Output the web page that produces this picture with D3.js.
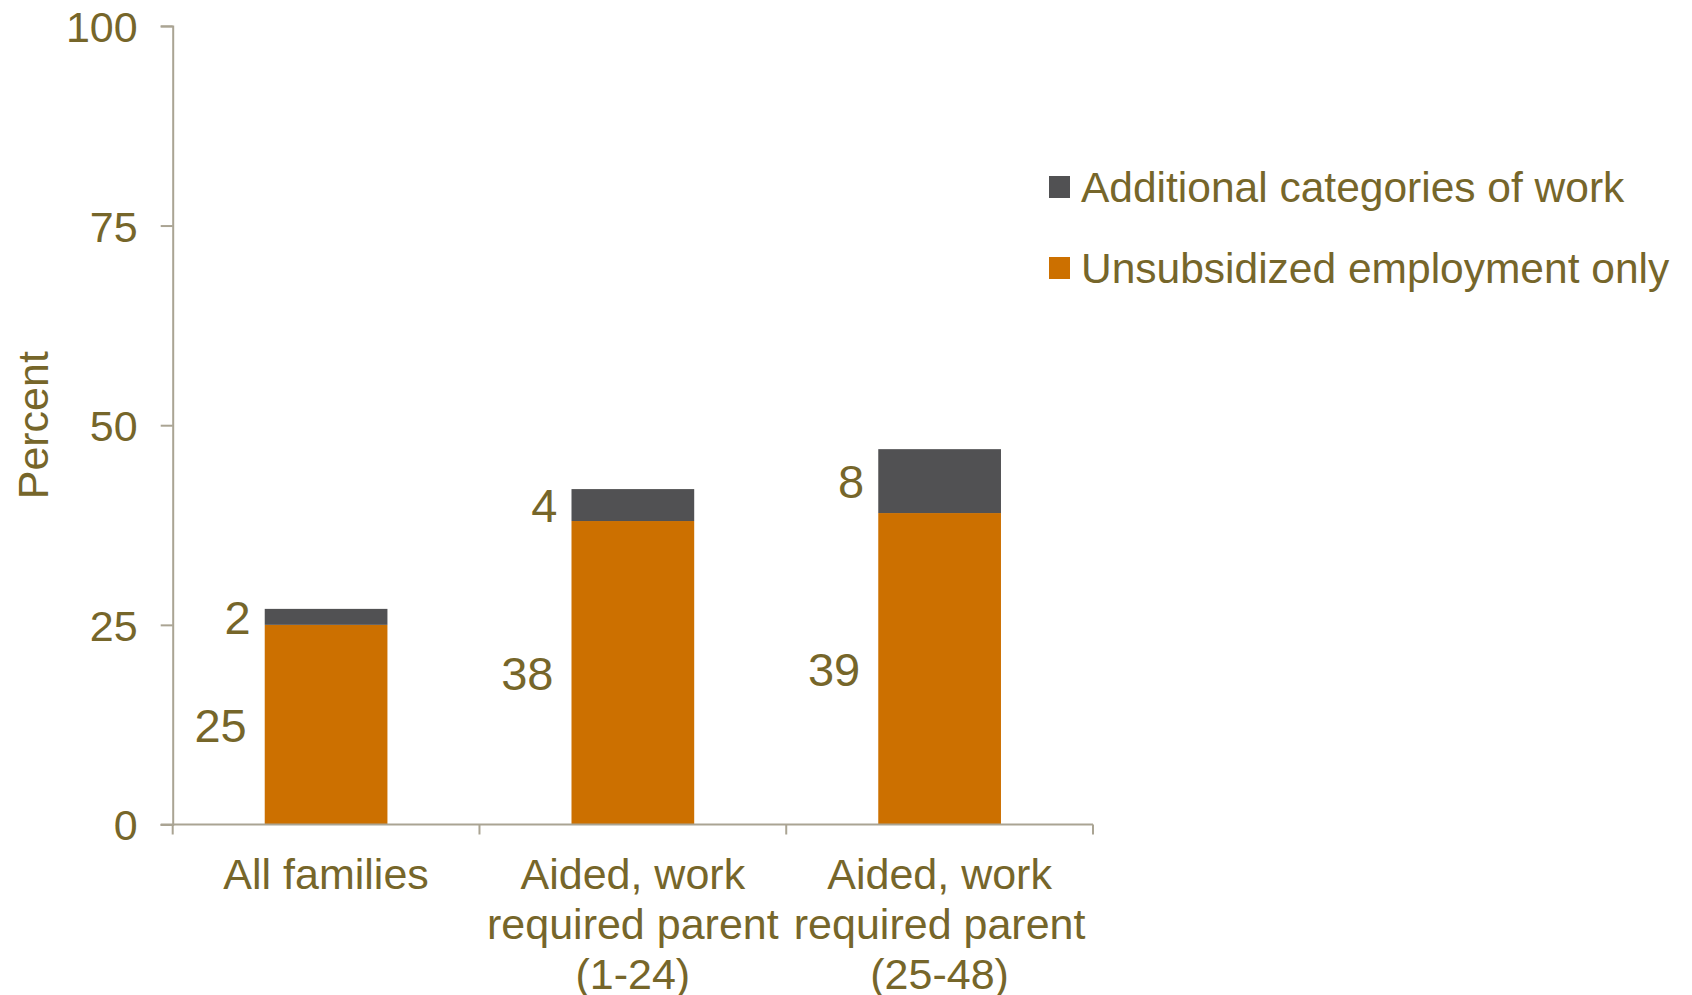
<!DOCTYPE html>
<html>
<head>
<meta charset="utf-8">
<script src="https://cdn.jsdelivr.net/npm/d3@7"></script>
<style>
  html, body { margin: 0; padding: 0; background: #ffffff; }
  svg { display: block; }
  text { font-family: "Liberation Sans", Arial, sans-serif; }
</style>
</head>
<body>
<svg id="chart" width="1692" height="995"></svg>
<script>
// ---- data ----
const categories = ["All families", "Aided, work required parent (1-24)", "Aided, work required parent (25-48)"];
const categoryLines = [["All families"], ["Aided, work", "required parent", "(1-24)"], ["Aided, work", "required parent", "(25-48)"]];
const unsubsidized = [25, 38, 39];
const additional = [2, 4, 8];
const seriesNames = ["Additional categories of work", "Unsubsidized employment only"];
const yTicks = [0, 25, 50, 75, 100];
const yLabel = "Percent";

// ---- styles ----
const textColor = "#76662a";
const axisColor = "#aaa493";
const orange = "#cc7000";
const gray = "#515153";

const svg = d3.select("#chart");
const plotLeft = 172.7, plotRight = 1093, plotTop = 25.9, plotBottom = 824.5;

const y = d3.scaleLinear().domain([0, 100]).range([plotBottom, plotTop]);
const x = d3.scaleBand().domain(categories).range([plotLeft, plotRight]).paddingInner(0.6).paddingOuter(0.3);

const rows = categories.map((c, i) => ({ cat: c, lines: categoryLines[i], u: unsubsidized[i], a: additional[i] }));

// bars
const g = svg.append("g");
g.selectAll("rect.u").data(rows).join("rect")
  .attr("x", d => x(d.cat)).attr("width", x.bandwidth())
  .attr("y", d => y(d.u)).attr("height", d => y(0) - y(d.u))
  .attr("fill", orange);
g.selectAll("rect.a").data(rows).join("rect")
  .attr("x", d => x(d.cat)).attr("width", x.bandwidth())
  .attr("y", d => y(d.u + d.a)).attr("height", d => y(d.u) - y(d.u + d.a))
  .attr("fill", gray);

// y axis
const yAxis = svg.append("g").attr("transform", `translate(${plotLeft},0)`)
  .call(d3.axisLeft(y).tickValues(yTicks).tickSize(12).tickSizeOuter(12).tickPadding(23));
yAxis.select(".domain").attr("stroke", axisColor).attr("stroke-width", 2);
yAxis.selectAll(".tick line").attr("stroke", axisColor).attr("stroke-width", 2);
yAxis.selectAll(".tick text").attr("fill", textColor).attr("font-size", 43)
  .attr("font-family", "Liberation Sans, Arial, sans-serif").attr("dy", "0.36em");

// x axis line and separator ticks
const step = x.step();
const xa = svg.append("g");
xa.append("line").attr("x1", plotLeft - 12).attr("x2", plotRight).attr("y1", plotBottom).attr("y2", plotBottom)
  .attr("stroke", axisColor).attr("stroke-width", 2);
xa.selectAll("line.sep").data(d3.range(categories.length + 1)).join("line")
  .attr("x1", i => plotLeft + i * step).attr("x2", i => plotLeft + i * step)
  .attr("y1", plotBottom).attr("y2", plotBottom + 10)
  .attr("stroke", axisColor).attr("stroke-width", 2);

// category labels
rows.forEach(d => {
  const t = svg.append("text").attr("text-anchor", "middle").attr("fill", textColor).attr("font-size", 43);
  d.lines.forEach((ln, j) => {
    t.append("tspan").attr("x", x(d.cat) + x.bandwidth() / 2).attr("y", 889 + j * 50).text(ln);
  });
});

// data labels
const lblSize = 47;
svg.selectAll("text.lu").data(rows).join("text")
  .attr("x", d => x(d.cat) - 18).attr("y", d => y(d.u / 2)).attr("dy", "0.36em")
  .attr("text-anchor", "end").attr("fill", textColor).attr("font-size", lblSize).text(d => d.u);
svg.selectAll("text.la").data(rows).join("text")
  .attr("x", d => x(d.cat) - 14).attr("y", d => y(d.u + d.a / 2)).attr("dy", "0.36em")
  .attr("text-anchor", "end").attr("fill", textColor).attr("font-size", lblSize).text(d => d.a);

// y label
svg.append("text").attr("transform", `translate(33,${(plotTop + plotBottom) / 2}) rotate(-90)`)
  .attr("text-anchor", "middle").attr("dy", "0.36em").attr("fill", textColor).attr("font-size", 43).text(yLabel);

// legend
const legColors = [gray, orange];
const legY = [187, 268];
seriesNames.forEach((s, i) => {
  svg.append("rect").attr("x", 1049).attr("y", legY[i] - 11).attr("width", 21).attr("height", 22).attr("fill", legColors[i]);
  svg.append("text").attr("x", 1081).attr("y", legY[i]).attr("dy", "0.36em")
    .attr("fill", textColor).attr("font-size", 42.5).text(s);
});
</script>
</body>
</html>
